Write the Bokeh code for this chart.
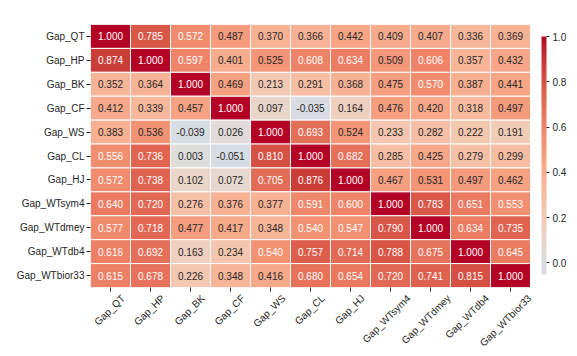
import math
from bokeh.plotting import figure
from bokeh.models import (ColumnDataSource, Range1d, FixedTicker, LinearColorMapper,
                          ColorBar, NumeralTickFormatter)
from bokeh.core.properties import value
from bokeh.embed import file_html
from bokeh.resources import INLINE

names = ["Gap_QT", "Gap_HP", "Gap_BK", "Gap_CF", "Gap_WS", "Gap_CL", "Gap_HJ",
         "Gap_WTsym4", "Gap_WTdmey", "Gap_WTdb4", "Gap_WTbior33"]

row_QT = [1.000, 0.785, 0.572, 0.487, 0.370, 0.366, 0.442, 0.409, 0.407, 0.336, 0.369]
row_HP = [0.874, 1.000, 0.597, 0.401, 0.525, 0.608, 0.634, 0.509, 0.606, 0.357, 0.432]
row_BK = [0.352, 0.364, 1.000, 0.469, 0.213, 0.291, 0.368, 0.475, 0.570, 0.387, 0.441]
row_CF = [0.412, 0.339, 0.457, 1.000, 0.097, -0.035, 0.164, 0.476, 0.420, 0.318, 0.497]
row_WS = [0.383, 0.536, -0.039, 0.026, 1.000, 0.693, 0.524, 0.233, 0.282, 0.222, 0.191]
row_CL = [0.556, 0.736, 0.003, -0.051, 0.810, 1.000, 0.682, 0.285, 0.425, 0.279, 0.299]
row_HJ = [0.572, 0.738, 0.102, 0.072, 0.705, 0.876, 1.000, 0.467, 0.531, 0.497, 0.462]
row_WTsym4 = [0.640, 0.720, 0.276, 0.376, 0.377, 0.591, 0.600, 1.000, 0.783, 0.651, 0.553]
row_WTdmey = [0.577, 0.718, 0.477, 0.417, 0.348, 0.540, 0.547, 0.790, 1.000, 0.634, 0.735]
row_WTdb4 = [0.616, 0.692, 0.163, 0.234, 0.540, 0.757, 0.714, 0.788, 0.675, 1.000, 0.645]
row_WTbior33 = [0.615, 0.678, 0.226, 0.348, 0.416, 0.680, 0.654, 0.720, 0.741, 0.815, 1.000]

rows = [row_QT, row_HP, row_BK, row_CF, row_WS, row_CL, row_HJ,
        row_WTsym4, row_WTdmey, row_WTdb4, row_WTbior33]

cbar_ticks = [0.0, 0.2, 0.4, 0.6, 0.8, 1.0]

# coolwarm (Moreland) key colours
CW = [(59, 76, 192), (68, 90, 204), (77, 104, 215), (87, 117, 225), (98, 130, 234),
      (108, 142, 241), (119, 154, 247), (130, 165, 251), (141, 176, 254), (152, 185, 255),
      (163, 194, 255), (174, 201, 253), (184, 208, 249), (194, 213, 244), (204, 217, 238),
      (213, 219, 230), (221, 221, 221), (229, 216, 209), (236, 211, 197), (241, 204, 184),
      (245, 196, 172), (247, 187, 159), (247, 177, 147), (247, 166, 134), (244, 154, 123),
      (241, 141, 111), (236, 127, 99), (229, 112, 89), (222, 96, 77), (213, 80, 67),
      (203, 62, 56), (192, 40, 47), (180, 4, 38)]


def coolwarm(t):
    t = min(max(t, 0.0), 1.0)
    f = t * (len(CW) - 1)
    i = min(int(f), len(CW) - 2)
    r = f - i
    a, b = CW[i], CW[i + 1]
    return tuple(a[k] + (b[k] - a[k]) * r for k in range(3))


def hexc(c):
    return "#%02x%02x%02x" % tuple(int(round(v)) for v in c)


def lum(c):
    out = []
    for v in c:
        v = v / 255.0
        out.append(v / 12.92 if v <= 0.03928 else ((v + 0.055) / 1.055) ** 2.4)
    return 0.2126 * out[0] + 0.7152 * out[1] + 0.0722 * out[2]


vmin = min(min(r) for r in rows)
vmax = max(max(r) for r in rows)

xs, ys, vals, fills, txt, tcol = [], [], [], [], [], []
for i, r in enumerate(rows):
    for j, v in enumerate(r):
        c = coolwarm((v + 1) / 2)
        xs.append(j + 0.5)
        ys.append(i + 0.5)
        vals.append(v)
        fills.append(hexc(c))
        txt.append("%.3f" % v)
        tcol.append("#262626" if lum(c) > 0.408 else "#ffffff")

src = ColumnDataSource(dict(x=xs, y=ys, v=vals, fill=fills, txt=txt, tcol=tcol))

n = len(names)
CELL = 40
EXT = 0.15  # small blank margin to the right so the last rotated label's tick stays in range
FW = int(round(CELL * (n + EXT)))
p = figure(frame_width=FW, frame_height=263, output_backend="svg", toolbar_location=None,
           x_range=Range1d(0, n + EXT), y_range=Range1d(n, 0),
           min_border_left=90, min_border_right=577 - 90 - FW, min_border_top=24,
           min_border_bottom=69)
p.outline_line_color = None
p.xgrid.visible = False
p.ygrid.visible = False
p.background_fill_color = "white"

p.rect(x="x", y="y", width=1, height=1, source=src, fill_color="fill",
       line_color="white", line_width=1)
p.text(x="x", y="y", text="txt", source=src, text_color="tcol",
       text_font=value("Liberation Sans"), text_font_size="10px",
       text_align="center", text_baseline="middle")

centers = [k + 0.5 for k in range(n)]
for ax in (p.xaxis[0], p.yaxis[0]):
    ax.axis_line_color = None
    ax.major_label_text_font = "Liberation Sans"
    ax.major_label_text_font_size = "10px"
    ax.major_label_text_color = "#262626"

ya = p.yaxis[0]
ya.ticker = FixedTicker(ticks=centers)
ya.major_tick_line_color = "#262626"
ya.major_tick_in = 0
ya.major_tick_out = 4
ya.minor_tick_line_color = None
ya.major_label_overrides = {t: nm for t, nm in zip(centers, names)}
ya.major_label_standoff = 2

# x labels: rotated 45 deg, bounding box centred under each column (matplotlib style)
AW = {"G": 778, "a": 556, "p": 556, "_": 556, "Q": 778, "T": 611, "H": 722, "B": 667,
      "K": 667, "C": 722, "F": 611, "W": 944, "S": 667, "L": 556, "J": 500, "s": 500,
      "y": 500, "m": 833, "4": 556, "d": 556, "e": 556, "b": 556, "i": 222, "o": 556,
      "r": 333, "3": 556}
fs = 10.0
hgt = 11.0
shifted = []
for t, nm in zip(centers, names):
    w = sum(AW.get(ch, 556) for ch in nm) / 1000.0 * fs
    dx = 0.218 * (w - hgt) + 6.7
    shifted.append(round(t + dx / CELL, 6))

xa = p.xaxis[0]
xa.ticker = FixedTicker(ticks=shifted, minor_ticks=centers)
xa.major_tick_line_color = None
xa.major_tick_in = 0
xa.major_tick_out = 4
xa.minor_tick_line_color = "#262626"
xa.minor_tick_in = 0
xa.minor_tick_out = 4
xa.major_label_overrides = {t: nm for t, nm in zip(shifted, names)}
xa.major_label_orientation = math.pi / 4
xa.major_label_standoff = 5

# colour bar
N = 256
pal = [hexc(coolwarm(((vmin + (vmax - vmin) * k / (N - 1)) + 1) / 2)) for k in range(N)]
mapper = LinearColorMapper(palette=pal, low=vmin, high=vmax)
cb = ColorBar(color_mapper=mapper, width=5, height=238,
              location=(11 - (FW - CELL * n), 13),
              margin=0, padding=0, ticker=FixedTicker(ticks=cbar_ticks),
              formatter=NumeralTickFormatter(format="0.0"),
              major_tick_in=0, major_tick_out=3, major_tick_line_color="#262626",
              label_standoff=3, major_label_text_font="Liberation Sans",
              major_label_text_font_size="10px", major_label_text_color="#262626",
              background_fill_alpha=0, border_line_color=None, bar_line_color=None)
p.add_layout(cb, "right")

open("out.html", "w").write(file_html(p, INLINE))
